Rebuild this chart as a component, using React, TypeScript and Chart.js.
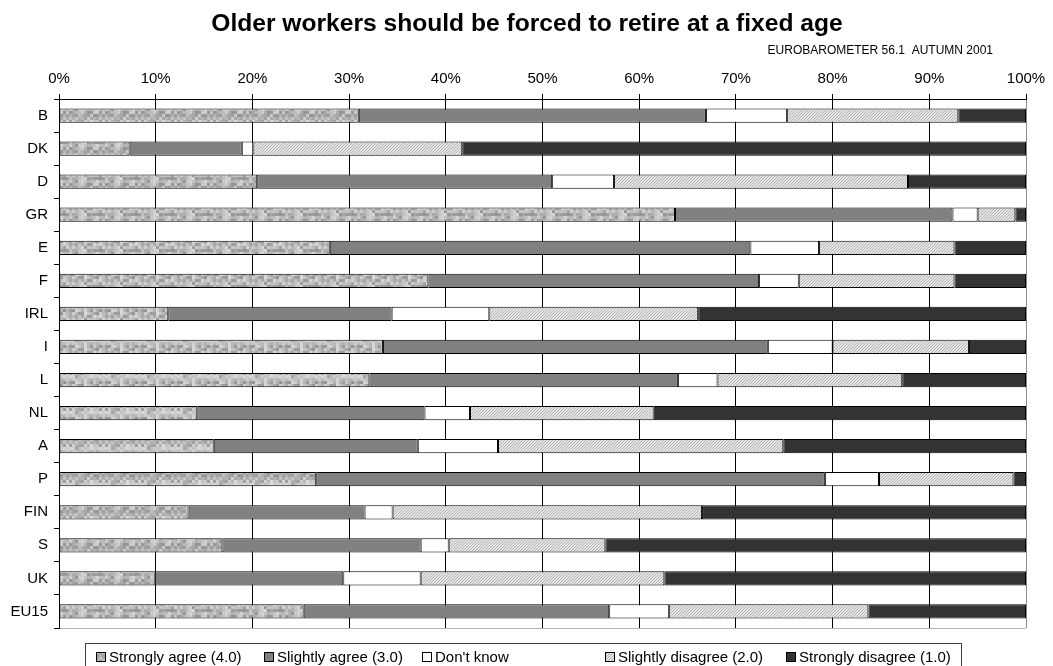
import React, { useEffect, useRef } from "react";
import { Chart, registerables } from "chart.js";

Chart.register(...registerables);

const TITLE = "Older workers should be forced to retire at a fixed age";
const SUBTITLE = "EUROBAROMETER 56.1  AUTUMN 2001";

const categories = ["B", "DK", "D", "GR", "E", "F", "IRL", "I", "L", "NL", "A", "P", "FIN", "S", "UK", "EU15"];
const seriesLabels = [
  "Strongly agree (4.0)",
  "Slightly agree (3.0)",
  "Don't know",
  "Slightly disagree (2.0)",
  "Strongly disagree (1.0)",
];
const stronglyAgree = [31.0, 7.3, 20.5, 63.7, 28.0, 38.2, 11.3, 33.5, 32.1, 14.3, 16.0, 26.6, 13.4, 16.9, 9.9, 25.3];
const slightlyAgree = [35.9, 11.6, 30.5, 28.7, 43.5, 34.2, 23.1, 39.8, 31.9, 23.5, 21.1, 52.6, 18.2, 20.5, 19.5, 31.6];
const dontKnow = [8.4, 1.2, 6.4, 2.6, 7.1, 4.1, 10.1, 6.7, 4.1, 4.7, 8.3, 5.6, 2.9, 2.9, 8.0, 6.2];
const slightlyDisagree = [17.7, 21.6, 30.4, 3.9, 14.0, 16.1, 21.6, 14.1, 19.1, 19.0, 29.5, 13.9, 32.0, 16.2, 25.2, 20.6];
const stronglyDisagree = [7.0, 58.3, 12.2, 1.1, 7.4, 7.4, 33.9, 5.9, 12.8, 38.5, 25.1, 1.3, 33.5, 43.5, 37.4, 16.3];
const xTickValues = [0, 10, 20, 30, 40, 50, 60, 70, 80, 90, 100];

const FONT = '"Liberation Sans", Arial, Helvetica, sans-serif';
const LEGEND_X = [96, 264, 422, 605, 786];

function hash(i: number, j: number): number {
  let h = Math.imul(i + 17, 374761393) ^ Math.imul(j + 31, 668265263);
  h = Math.imul(h ^ (h >>> 13), 1274126177);
  h ^= h >>> 16;
  return (h >>> 0) / 4294967295;
}

function makeNoisePattern(ctx: CanvasRenderingContext2D): CanvasPattern | string {
  const c = document.createElement("canvas");
  const cells = 12;
  const cell = 3;
  c.width = cells * cell;
  c.height = cells * cell;
  const g = c.getContext("2d");
  if (!g) return "#b4b4b4";
  for (let i = 0; i < cells; i++) {
    for (let j = 0; j < cells; j++) {
      const v = Math.round(148 + hash(i, j) * 72);
      g.fillStyle = `rgb(${v},${v},${v})`;
      g.fillRect(i * cell, j * cell, cell, cell);
    }
  }
  return ctx.createPattern(c, "repeat") || "#b4b4b4";
}

function makeHatchPattern(ctx: CanvasRenderingContext2D): CanvasPattern | string {
  const c = document.createElement("canvas");
  c.width = 3;
  c.height = 3;
  const g = c.getContext("2d");
  if (!g) return "#d8d8d8";
  g.fillStyle = "#e6e6e6";
  g.fillRect(0, 0, 3, 3);
  g.fillStyle = "#b2b2b2";
  for (let k = 0; k < 3; k++) g.fillRect(k, 2 - k, 1, 1);
  return ctx.createPattern(c, "repeat") || "#d8d8d8";
}

const decorPlugin = {
  id: "decor",
  afterDraw(chart: any) {
    const ctx: CanvasRenderingContext2D = chart.ctx;
    ctx.save();
    ctx.fillStyle = "#000";
    ctx.font = `bold 24.6px ${FONT}`;
    ctx.textAlign = "center";
    ctx.textBaseline = "alphabetic";
    ctx.fillText(TITLE, 527, 31);
    ctx.font = `12px ${FONT}`;
    ctx.textAlign = "right";
    ctx.fillText(SUBTITLE, 993, 54);

    ctx.strokeStyle = "#404040";
    ctx.lineWidth = 1;
    ctx.strokeRect(85.5, 643.5, 876, 40);

    chart.data.datasets.forEach((ds: any, i: number) => {
      const x = LEGEND_X[i];
      ctx.fillStyle = ds.backgroundColor;
      ctx.fillRect(x, 652, 10, 10);
      ctx.strokeStyle = "#000";
      ctx.strokeRect(x + 0.5, 652.5, 9, 9);
      ctx.fillStyle = "#000";
      ctx.font = `15px ${FONT}`;
      ctx.textAlign = "left";
      ctx.textBaseline = "alphabetic";
      ctx.fillText(ds.label, x + 13, 662);
    });
    ctx.restore();
  },
};

export default function App() {
  const canvasRef = useRef<HTMLCanvasElement | null>(null);

  useEffect(() => {
    const canvas = canvasRef.current;
    if (!canvas) return;
    const ctx = canvas.getContext("2d");
    if (!ctx) return;
    const noise = makeNoisePattern(ctx);
    const hatch = makeHatchPattern(ctx);
    const seriesValues = [stronglyAgree, slightlyAgree, dontKnow, slightlyDisagree, stronglyDisagree];
    const fills: any[] = [noise, "#808080", "#ffffff", hatch, "#333333"];

    const chart = new Chart(ctx, {
      type: "bar",
      data: {
        labels: categories,
        datasets: seriesValues.map((vals, i) => ({
          label: seriesLabels[i],
          data: vals,
          backgroundColor: fills[i],
          borderColor: "#000",
          borderWidth: 1,
          borderSkipped: false,
          barPercentage: 0.43,
          categoryPercentage: 1,
        })),
      },
      options: {
        indexAxis: "y",
        responsive: false,
        animation: false,
        layout: { padding: { left: 0, right: 27, top: 0, bottom: 38 } },
        plugins: {
          legend: { display: false },
          title: { display: false },
          tooltip: { enabled: false },
        },
        scales: {
          x: {
            position: "top",
            stacked: true,
            min: 0,
            max: 100,
            afterBuildTicks: (scale: any) => {
              scale.ticks = xTickValues.map((v) => ({ value: v }));
            },
            afterFit: (scale: any) => {
              scale.height = 99;
            },
            ticks: {
              color: "#000",
              font: { family: FONT, size: 15 },
              padding: 6,
              maxRotation: 0,
              callback: (v: any) => `${v}%`,
            },
            grid: {
              color: (c: any) => (c.tick && c.tick.value === 100 ? "#8c8c8c" : "#000"),
              lineWidth: 1,
              tickLength: 5,
              tickColor: "#000",
            },
            border: { display: true, color: "#000", width: 1 },
          },
          y: {
            stacked: true,
            afterFit: (scale: any) => {
              scale.width = 59;
            },
            ticks: {
              color: "#000",
              font: { family: FONT, size: 15 },
              padding: 6,
            },
            grid: {
              offset: true,
              drawOnChartArea: true,
              color: (c: any) => (c.index === undefined ? "#b4b4b4" : "rgba(0,0,0,0)"),
              tickLength: 5,
              tickColor: "#000",
            },
            border: { display: true, color: "#000", width: 1 },
          },
        },
      },
      plugins: [decorPlugin],
    } as any);

    return () => {
      chart.destroy();
    };
  }, []);

  return (
    <div style={{ position: "absolute", left: 0, top: 0, width: 1053, height: 666, background: "#fff" }}>
      <canvas ref={canvasRef} width={1053} height={666} style={{ width: 1053, height: 666, display: "block" }} />
    </div>
  );
}
